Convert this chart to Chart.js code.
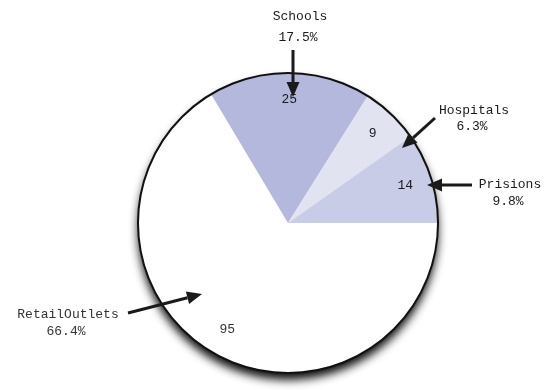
<!DOCTYPE html>
<html>
<head>
<meta charset="utf-8">
<script src="https://cdn.jsdelivr.net/npm/chart.js@4.4.1/dist/chart.umd.min.js"></script>
<style>
    html, body { margin: 0; padding: 0; background: #fff; }
    #wrap { width: 544px; height: 390px; }
</style>
</head>
<body>
<div id="wrap"><canvas id="chart"></canvas></div>
<script>
// Slices, drawn clockwise from 3 o'clock
const categories = ['Retail Outlets', 'Schools', 'Hospitals', 'Prisions'];
const calloutNames = ['RetailOutlets', 'Schools', 'Hospitals', 'Prisions'];
const counts = [95, 25, 9, 14];
const sliceColors = ['#ffffff', '#b3b8dc', '#e1e3f1', '#c9cce6'];

// Callout placement, offsets in px from the pie centre
const callouts = [
    { name: [-220, 92], pct: [-222, 109], tail: [-160, 90], tip: [-86, 71] },
    { name: [12, -206], pct: [10, -185], tail: [5, -173], tip: [5, -126] },
    { name: [186, -112], pct: [184, -96], tail: [147, -105], tip: [114, -75] },
    { name: [222, -38], pct: [220, -21], tail: [184, -38], tip: [139, -38] }
];

const total = counts.reduce((a, b) => a + b, 0);
const FONT = '13px "Liberation Mono", "Courier New", monospace';

function drawArrow(ctx, x1, y1, x2, y2) {
    const ang = Math.atan2(y2 - y1, x2 - x1);
    const head = 15, half = 6.5;
    const bx = x2 - head * Math.cos(ang), by = y2 - head * Math.sin(ang);
    ctx.beginPath();
    ctx.moveTo(x1, y1);
    ctx.lineTo(bx, by);
    ctx.lineWidth = 3;
    ctx.strokeStyle = '#1a1a1a';
    ctx.stroke();
    ctx.beginPath();
    ctx.moveTo(x2, y2);
    ctx.lineTo(bx + half * Math.sin(ang), by - half * Math.cos(ang));
    ctx.lineTo(bx - half * Math.sin(ang), by + half * Math.cos(ang));
    ctx.closePath();
    ctx.fillStyle = '#1a1a1a';
    ctx.fill();
}

const piePlugin = {
    id: 'pieDecor',
    beforeDatasetsDraw(chart) {
        const arc = chart.getDatasetMeta(0).data[0];
        const ctx = chart.ctx;
        ctx.save();
        ctx.beginPath();
        ctx.arc(arc.x, arc.y, arc.outerRadius, 0, Math.PI * 2);
        ctx.fillStyle = '#ffffff';
        ctx.shadowColor = 'rgba(0,0,0,0.95)';
        ctx.shadowBlur = 10;
        ctx.shadowOffsetX = 0;
        ctx.shadowOffsetY = 7;
        ctx.fill();
        ctx.restore();
    },
    afterDatasetsDraw(chart) {
        const meta = chart.getDatasetMeta(0);
        const ctx = chart.ctx;
        const cx = meta.data[0].x, cy = meta.data[0].y, r = meta.data[0].outerRadius;

        ctx.save();
        ctx.beginPath();
        ctx.arc(cx, cy, r, 0, Math.PI * 2);
        ctx.lineWidth = 2;
        ctx.strokeStyle = '#111';
        ctx.stroke();

        ctx.font = FONT;
        ctx.fillStyle = '#333';
        ctx.textAlign = 'center';
        ctx.textBaseline = 'middle';

        meta.data.forEach((el, i) => {
            // value inside the slice
            const mid = (el.startAngle + el.endAngle) / 2;
            ctx.fillText(String(counts[i]), cx + Math.cos(mid) * r * 0.82, cy + Math.sin(mid) * r * 0.82);

            // callout outside
            const c = callouts[i];
            ctx.fillText(calloutNames[i], cx + c.name[0], cy + c.name[1]);
            ctx.fillText((counts[i] / total * 100).toFixed(1) + '%', cx + c.pct[0], cy + c.pct[1]);
            drawArrow(ctx, cx + c.tail[0], cy + c.tail[1], cx + c.tip[0], cy + c.tip[1]);
        });
        ctx.restore();
    }
};

new Chart(document.getElementById('chart'), {
    type: 'pie',
    data: {
        labels: categories,
        datasets: [{
            data: counts,
            backgroundColor: sliceColors,
            borderWidth: 0
        }]
    },
    options: {
        responsive: true,
        maintainAspectRatio: false,
        animation: false,
        rotation: 90,
        layout: { padding: { left: 138, right: 106, top: 73, bottom: 17 } },
        plugins: {
            legend: { display: false },
            tooltip: { enabled: false }
        }
    },
    plugins: [piePlugin]
});
</script>
</body>
</html>
